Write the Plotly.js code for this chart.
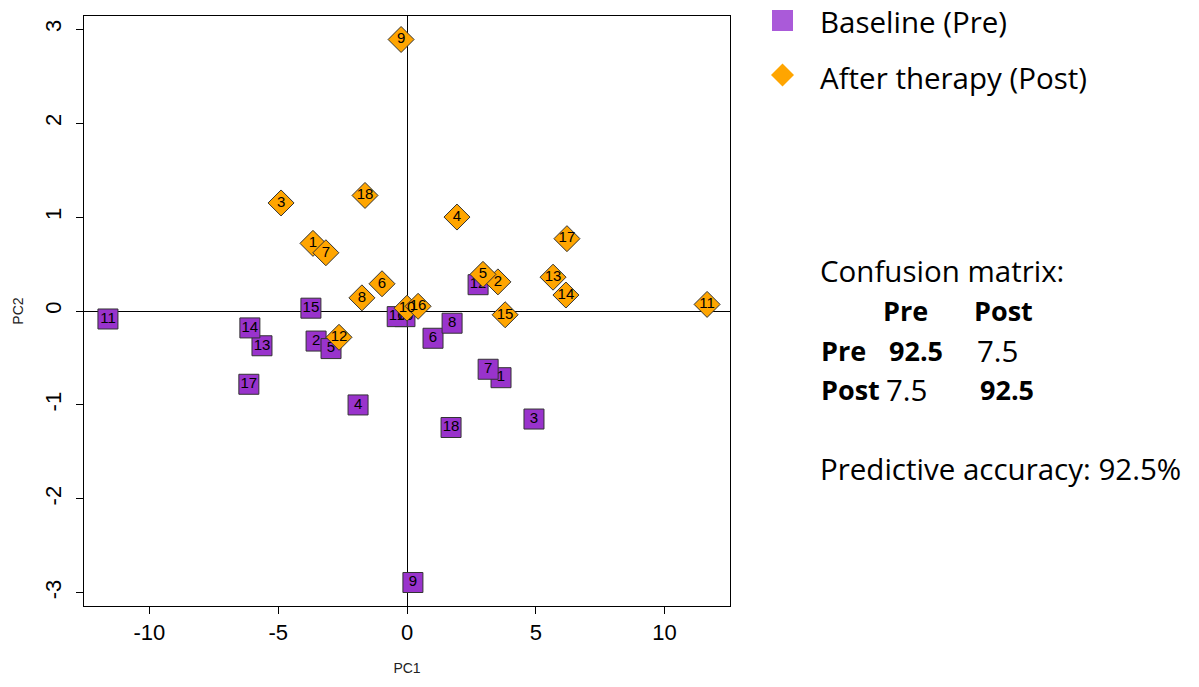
<!DOCTYPE html>
<html>
<head>
<meta charset="utf-8">
<script src="https://cdn.plot.ly/plotly-3.0.1.min.js"></script>
<style>
html,body{margin:0;padding:0;background:#fff;}
#chart{width:1199px;height:687px;}
</style>
</head>
<body>
<div id="chart"></div>
<script>
// ---- data ----
var preLabels  = ['1','2','3','4','5','6','7','8','9','10','11','12','13','14','15','16','17','18'];
var preX = [3.65,-3.53,4.93,-1.90,-2.95,1.01,3.15,1.75,0.23,-0.08,-11.61,2.76,-5.63,-6.10,-3.73,-0.38,-6.14,1.71];
var preY = [-0.71,-0.32,-1.15,-1.00,-0.40,-0.29,-0.62,-0.13,-2.89,-0.06,-0.085,0.28,-0.37,-0.18,0.03,-0.06,-0.78,-1.24];

var postLabels = ['1','2','3','4','5','6','7','8','9','10','11','12','13','14','15','16','17','18'];
var postX = [-3.65,3.53,-4.89,1.94,2.95,-0.97,-3.15,-1.75,-0.23,0.0,11.65,-2.64,5.67,6.17,3.81,0.43,6.21,-1.63];
var postY = [0.72,0.31,1.15,1.00,0.39,0.29,0.62,0.14,2.89,0.03,0.07,-0.28,0.36,0.17,-0.04,0.05,0.77,1.23];

var seriesNames = ['Baseline (Pre)','After therapy (Post)'];
var xTicks = [-10,-5,0,5,10];
var yTicks = [-3,-2,-1,0,1,2,3];

var cmTitle = 'Confusion matrix:';
var cmClasses = ['Pre','Post'];
var cmValues = [[92.5,7.5],[7.5,92.5]];
var accuracy = 92.5;

// ---- layout helpers ----
var W = 1199, H = 687;
var M = {l:84, r:469, t:16, b:81};
var PW = W - M.l - M.r, PH = H - M.t - M.b;
function px(x){ return (x - M.l) / PW; }
function py(y){ return (H - M.b - y) / PH; }

var labelFont = {family:'Liberation Sans, Arial, sans-serif', size:15, color:'#000'};
var sideFont = 'Open Sans, Noto Sans, sans-serif';
var regSize = 29.5, boldSize = 27;

var traces = [
  {
    type:'scatter', mode:'markers+text', name:seriesNames[0],
    x:preX, y:preY, text:preLabels, textposition:'middle center',
    textfont:labelFont, cliponaxis:false,
    marker:{symbol:'square', size:20, color:'#9933cc', line:{color:'#333333', width:1}},
    showlegend:false, hoverinfo:'x+y+text'
  },
  {
    type:'scatter', mode:'markers+text', name:seriesNames[1],
    x:postX, y:postY, text:postLabels, textposition:'middle center',
    textfont:labelFont, cliponaxis:false,
    marker:{symbol:'diamond', size:20, color:'#ffa500', line:{color:'#333333', width:1}},
    showlegend:false, hoverinfo:'x+y+text'
  }
];

var annotations = [];
var shapes = [];
function addText(text, xpix, ypix, bold){
  annotations.push({
    xref:'paper', yref:'paper', x:px(xpix), y:py(ypix),
    xanchor:'left', yanchor:'middle', showarrow:false,
    text: bold ? '<b>'+text+'</b>' : text,
    font:{family:sideFont, size: bold ? boldSize : regSize, color:'#000'}
  });
}

// legend
shapes.push({type:'rect', xref:'paper', yref:'paper',
  x0:px(772), x1:px(793), y0:py(31), y1:py(10),
  fillcolor:'#aa5ad9', line:{width:0}});
var dcx = 782.5, dcy = 75, dh = 11.5;
shapes.push({type:'path', xref:'paper', yref:'paper',
  path:'M '+px(dcx-dh)+' '+py(dcy)+' L '+px(dcx)+' '+py(dcy-dh)+' L '+px(dcx+dh)+' '+py(dcy)+' L '+px(dcx)+' '+py(dcy+dh)+' Z',
  fillcolor:'#ffa500', line:{width:0}});
addText(seriesNames[0], 818, 22, false);
addText(seriesNames[1], 818, 77, false);

// confusion matrix
addText(cmTitle, 818, 270, false);
var headX = [881, 972];
var rowY = [350, 389];
for (var j=0;j<cmClasses.length;j++) addText(cmClasses[j], headX[j], 310, true);
var cellX = [[887, 975],[884, 978]];
for (var i=0;i<cmClasses.length;i++){
  addText(cmClasses[i], 819, rowY[i], true);
  for (var k=0;k<cmClasses.length;k++){
    addText(String(cmValues[i][k].toFixed(1)), cellX[i][k], rowY[i], i===k);
  }
}
addText('Predictive accuracy: ' + accuracy.toFixed(1) + '%', 818, 468, false);

var tickFont = {family:'Liberation Sans, Arial, sans-serif', size:22, color:'#000'};
var layout = {
  width:W, height:H,
  margin:M,
  paper_bgcolor:'#fff', plot_bgcolor:'#fff',
  showlegend:false,
  xaxis:{
    range:[-12.54,12.54], tickmode:'array', tickvals:xTicks, ticktext:xTicks.map(String),
    ticks:'outside', ticklen:7, tickcolor:'#000', tickwidth:1,
    showline:true, mirror:true, linecolor:'#000', linewidth:1,
    showgrid:false, zeroline:true, zerolinecolor:'#000', zerolinewidth:1,
    tickfont:tickFont,
    title:{text:'PC1', font:{family:'Liberation Sans, Arial, sans-serif', size:14, color:'#222'}, standoff:18}
  },
  yaxis:{
    range:[-3.14,3.14], tickmode:'array', tickvals:yTicks, ticktext:yTicks.map(String),
    ticks:'outside', ticklen:7, tickcolor:'#000', tickwidth:1, tickangle:-90,
    ticklabelstandoff:6,
    showline:true, mirror:true, linecolor:'#000', linewidth:1,
    showgrid:false, zeroline:true, zerolinecolor:'#000', zerolinewidth:1,
    tickfont:tickFont,
    title:{text:'PC2', font:{family:'Liberation Sans, Arial, sans-serif', size:14, color:'#222'}, standoff:14}
  },
  annotations:annotations,
  shapes:shapes
};

Plotly.newPlot('chart', traces, layout, {displayModeBar:false, staticPlot:true});
</script>
</body>
</html>
